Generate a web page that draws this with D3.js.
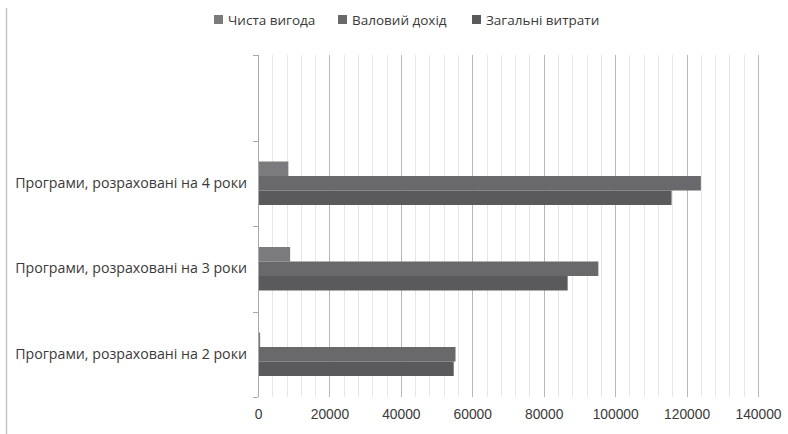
<!DOCTYPE html>
<html>
<head>
<meta charset="utf-8">
<script src="https://cdn.jsdelivr.net/npm/d3@7"></script>
<style>
  body { margin: 0; background: #fff; }
  svg { display: block; font-family: "Open Sans", "Noto Sans", sans-serif; }
</style>
</head>
<body>
<svg id="chart" width="788" height="434"></svg>
<script>
// Categories, bottom to top; the top slot is left empty
const categories = ["Програми, розраховані на 2 роки", "Програми, розраховані на 3 роки", "Програми, розраховані на 4 роки", ""];
const seriesNames = ["Чиста вигода", "Валовий дохід", "Загальні витрати"];
const netBenefit = [600, 9000, 8500, null];
const grossIncome = [55300, 95300, 124000, null];
const totalCosts = [54800, 86700, 115800, null];
const xTicks = [0, 20000, 40000, 60000, 80000, 100000, 120000, 140000];
const seriesColors = ["#7b7b7d", "#69696b", "#5a5a5c"];

const seriesValues = [netBenefit, grossIncome, totalCosts];

const svg = d3.select("#chart");
const plot = { left: 258, right: 758, top: 55, bottom: 397 };

// Frame line on the left edge
svg.append("line")
  .attr("x1", 6.5).attr("x2", 6.5).attr("y1", 8).attr("y2", 434)
  .attr("stroke", "#c8c8c8").attr("stroke-width", 1.5);

const x = d3.scaleLinear().domain([0, 140000]).range([plot.left, plot.right]);
const y = d3.scaleBand().domain(d3.range(categories.length).reverse())
  .range([plot.top, plot.bottom]);

// Minor gridlines every 4000
const minor = d3.range(4000, 140001, 4000).filter(v => v % 20000 !== 0);
svg.append("g").selectAll("line").data(minor).join("line")
  .attr("x1", d => Math.round(x(d)) + 0.5).attr("x2", d => Math.round(x(d)) + 0.5)
  .attr("y1", plot.top).attr("y2", plot.bottom)
  .attr("stroke", "#e6e6e6").attr("stroke-width", 1);

// Major gridlines
svg.append("g").selectAll("line").data(xTicks.slice(1)).join("line")
  .attr("x1", d => Math.round(x(d)) + 0.5).attr("x2", d => Math.round(x(d)) + 0.5)
  .attr("y1", plot.top).attr("y2", plot.bottom)
  .attr("stroke", "#b8b8b8").attr("stroke-width", 1);

// Bars
const inner = d3.scaleBand().domain(d3.range(seriesNames.length))
  .range([0, y.bandwidth()]).paddingOuter(1.45).paddingInner(0);
const barGroup = svg.append("g");
seriesValues.forEach((vals, s) => {
  barGroup.append("g").selectAll("rect")
    .data(vals.map((v, i) => ({ v, i })).filter(d => d.v != null))
    .join("rect")
    .attr("x", x(0))
    .attr("y", d => y(d.i) + inner(s))
    .attr("width", d => x(d.v) - x(0))
    .attr("height", inner.bandwidth())
    .attr("fill", seriesColors[s]);
});

// Category axis
const yAxis = d3.axisLeft(y).tickSize(0).tickFormat(i => categories[i]);
const gy = svg.append("g").attr("transform", `translate(${plot.left},0)`).call(yAxis);
gy.select(".domain").remove();
gy.selectAll("text").attr("x", -11).attr("font-size", 14.2).attr("fill", "#3a3a3a")
  .attr("font-family", "'Open Sans', sans-serif");
svg.append("line")
  .attr("x1", plot.left + 0.5).attr("x2", plot.left + 0.5)
  .attr("y1", plot.top).attr("y2", plot.bottom)
  .attr("stroke", "#a8a8a8");
// Category boundary ticks
const bounds = d3.range(categories.length + 1).map(k => plot.top + k * y.step());
svg.append("g").selectAll("line").data(bounds).join("line")
  .attr("x1", plot.left - 5).attr("x2", plot.left)
  .attr("y1", d => Math.round(d) + 0.5).attr("y2", d => Math.round(d) + 0.5)
  .attr("stroke", "#a8a8a8");

// Value axis labels
const xAxis = d3.axisBottom(x).tickValues(xTicks).tickSize(0).tickFormat(d3.format("d"));
const gx = svg.append("g").attr("transform", `translate(0,${plot.bottom})`).call(xAxis);
gx.select(".domain").remove();
gx.selectAll("text").attr("y", 12).attr("font-size", 13.8).attr("fill", "#3a3a3a");

// Legend
const legendX = [214, 338, 472];
const legend = svg.append("g").selectAll("g").data(seriesNames).join("g")
  .attr("transform", (d, i) => `translate(${legendX[i]},20)`);
legend.append("rect").attr("x", 0).attr("y", -5).attr("width", 9).attr("height", 9)
  .attr("fill", (d, i) => seriesColors[i]);
legend.append("text").attr("x", 14).attr("y", 0).attr("dy", "0.35em")
  .attr("font-size", 13.5).attr("fill", "#3a3a3a").text(d => d);
</script>
</body>
</html>
